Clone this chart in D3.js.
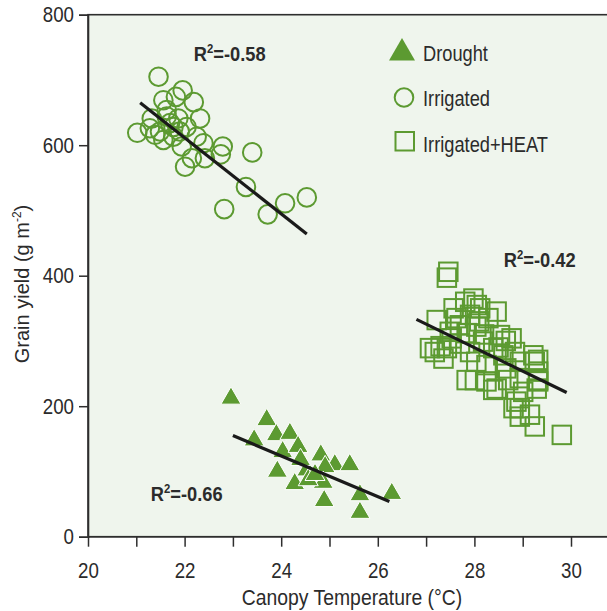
<!DOCTYPE html>
<html>
<head>
<meta charset="utf-8">
<script src="https://cdn.jsdelivr.net/npm/d3@7"></script>
<style>
  html, body { margin: 0; padding: 0; background: #ffffff; }
  svg { display: block; }
  text { font-family: "Liberation Sans", Arial, sans-serif; fill: #2b2b2b; }
</style>
</head>
<body>
<svg id="chart" width="607" height="611"></svg>
<script>
// ---------------- data ----------------
const xTicks = [20, 21, 22, 23, 24, 25, 26, 27, 28, 29, 30];
const xTickLabels = [20, 22, 24, 26, 28, 30];
const yTicks = [0, 200, 400, 600, 800];

const seriesNames = ["Drought", "Irrigated", "Irrigated+HEAT"];

const drought = [
  [22.96, 212], [23.70, 179], [23.44, 148], [23.90, 156], [24.18, 158],
  [24.03, 130], [24.35, 138], [23.92, 100], [24.28, 81], [24.53, 102],
  [24.82, 125], [25.11, 110], [25.42, 110], [24.91, 107], [24.89, 55],
  [24.87, 83], [25.63, 64], [25.63, 37], [26.29, 66], [24.56, 87],
  [24.40, 118], [24.70, 95]
];

const irrigated = [
  [21.46, 705], [21.96, 684], [21.56, 669], [22.19, 666], [21.82, 674],
  [22.32, 641], [21.02, 619], [21.32, 641], [21.39, 616], [21.63, 654],
  [21.87, 641], [21.49, 621], [21.77, 613], [21.94, 598], [22.25, 613],
  [22.39, 603], [22.01, 567], [22.15, 580], [22.42, 580], [22.79, 598],
  [22.75, 586], [23.40, 589], [23.27, 536], [22.82, 502], [23.72, 494],
  [24.08, 511], [24.53, 520], [21.70, 634], [21.90, 621], [21.56, 608],
  [21.77, 628], [22.04, 628], [21.28, 626], [21.63, 644]
];

const heat = [
  [27.46, 406], [27.43, 397], [27.98, 365], [27.81, 360], [27.57, 350],
  [28.46, 345], [28.29, 335], [27.22, 332], [27.70, 324], [28.04, 322],
  [28.53, 309], [28.77, 304], [28.84, 283], [29.25, 268], [29.32, 253],
  [29.29, 227], [29.15, 187], [29.25, 169], [29.81, 156], [28.94, 197],
  [28.87, 207], [28.46, 227], [28.25, 238], [28.01, 240], [27.18, 283],
  [27.36, 273], [27.43, 289], [27.53, 304], [27.70, 296], [27.91, 283],
  [28.04, 268], [28.25, 263], [28.66, 258], [28.94, 243], [28.94, 268],
  [28.60, 278], [28.39, 289], [28.18, 299], [27.84, 312], [27.63, 335],
  [28.12, 350], [27.91, 340], [27.49, 314], [27.08, 289], [29.22, 278],
  [29.01, 222], [28.81, 197], [29.32, 238], [27.84, 240], [28.39, 225],
  [28.94, 184], [29.32, 271], [29.32, 240], [28.10, 330], [28.50, 290],
  [28.20, 310], [28.65, 300], [27.30, 292], [28.05, 355], [28.70, 240]
];

const droughtFit = [[23.0, 155], [26.24, 54]];
const irrigatedFit = [[21.08, 665], [24.53, 464]];
const heatFit = [[26.80, 333], [29.91, 221]];

const r2Labels = [
  { text: "-0.58", x: 22.19, y: 729 },
  { text: "-0.42", x: 28.61, y: 413 },
  { text: "-0.66", x: 21.30, y: 55 }
];

// ---------------- chart ----------------
const W = 607, H = 611;
const svg = d3.select("#chart");
const green = "#5c9a31";
const SX = 0.85; // horizontal condensing of the condensed-looking labels

const x = d3.scaleLinear().domain([20, 30]).range([88, 571]);
const y = d3.scaleLinear().domain([0, 800]).range([536.7, 14.7]);

// condensed text helper: place at (px,py) and squeeze horizontally
function ctext(parent, px, py, sx) {
  return parent.append("text")
    .attr("transform", `translate(${px},${py}) scale(${sx},1)`);
}

// plot background + frame
svg.append("rect")
  .attr("x", x(20)).attr("y", y(800))
  .attr("width", W + 10 - x(20)).attr("height", y(0) - y(800))
  .attr("fill", "#eff5ed")
  .attr("stroke", "#2e2e2e").attr("stroke-width", 1.6);

// y axis
const yAxis = svg.append("g")
  .attr("transform", `translate(${x(20)},0)`)
  .call(d3.axisLeft(y).tickValues(yTicks).tickSize(9).tickFormat(d3.format("d")));
yAxis.select(".domain").attr("stroke", "#2e2e2e").attr("stroke-width", 1.6);
yAxis.selectAll(".tick line").attr("stroke", "#2e2e2e").attr("stroke-width", 1.5);
yAxis.selectAll(".tick text")
  .attr("x", -14 / SX)
  .attr("transform", `scale(${SX},1)`)
  .style("font-size", "22px").attr("fill", "#2b2b2b");

// x axis
const xAxis = svg.append("g")
  .attr("transform", `translate(0,${y(0)})`)
  .call(d3.axisBottom(x).tickValues(xTicks).tickSize(10).tickPadding(16)
    .tickFormat(d => xTickLabels.includes(d) ? d : ""));
xAxis.select(".domain").remove();
xAxis.append("line").attr("x1", x(20)).attr("x2", W + 10)
  .attr("stroke", "#2e2e2e").attr("stroke-width", 1.6);
xAxis.selectAll(".tick line").attr("stroke", "#2e2e2e").attr("stroke-width", 1.5);
xAxis.selectAll(".tick text")
  .attr("transform", `scale(${SX},1)`)
  .style("font-size", "22px").attr("fill", "#2b2b2b");

// axis titles
ctext(svg, 352, 605, 0.88)
  .attr("text-anchor", "middle")
  .style("font-size", "22px")
  .text("Canopy Temperature (°C)");

const yt = svg.append("text")
  .attr("transform", "translate(29,284) rotate(-90)")
  .attr("text-anchor", "middle")
  .style("font-size", "20px");
yt.append("tspan").text("Grain yield (g m");
yt.append("tspan").attr("dy", -8).style("font-size", "12px").text("-2");
yt.append("tspan").attr("dy", 8).text(")");

// symbols
const triPath = (cx, cy, s) => {
  const h = s * Math.sqrt(3) / 2;
  return `M${cx},${cy - 2 * h / 3}L${cx + s / 2},${cy + h / 3}L${cx - s / 2},${cy + h / 3}Z`;
};

// irrigated circles
svg.append("g").selectAll("circle").data(irrigated).join("circle")
  .attr("cx", d => x(d[0])).attr("cy", d => y(d[1])).attr("r", 9.3)
  .attr("fill", "none").attr("stroke", green).attr("stroke-width", 2);

// heat squares
const sq = 18.5;
svg.append("g").selectAll("rect").data(heat).join("rect")
  .attr("x", d => x(d[0]) - sq / 2).attr("y", d => y(d[1]) - sq / 2)
  .attr("width", sq).attr("height", sq)
  .attr("fill", "none").attr("stroke", green).attr("stroke-width", 2);

// drought triangles
svg.append("g").selectAll("path").data(drought).join("path")
  .attr("d", d => triPath(x(d[0]), y(d[1]), 20))
  .attr("fill", green).attr("stroke", "#ffffff").attr("stroke-width", 1);

// fit lines
const line = d3.line().x(d => x(d[0])).y(d => y(d[1]));
[droughtFit, irrigatedFit, heatFit].forEach(f => {
  svg.append("path").attr("d", line(f))
    .attr("fill", "none").attr("stroke", "#1a1a1a").attr("stroke-width", 3.2);
});

// R² labels
r2Labels.forEach(l => {
  const t = ctext(svg, x(l.x), y(l.y), 0.87)
    .style("font-size", "21px").style("font-weight", "bold").attr("fill", "#222");
  t.append("tspan").text("R");
  t.append("tspan").attr("dy", -8).style("font-size", "13px").text("2");
  t.append("tspan").attr("dy", 8).text("=" + l.text);
});

// legend
const lg = svg.append("g");
lg.append("path").attr("d", triPath(402, 53, 26)).attr("fill", green);
lg.append("circle").attr("cx", 404).attr("cy", 97.5).attr("r", 9.3)
  .attr("fill", "none").attr("stroke", green).attr("stroke-width", 2);
lg.append("rect").attr("x", 395.5).attr("y", 132).attr("width", 18.5).attr("height", 18.5)
  .attr("fill", "none").attr("stroke", green).attr("stroke-width", 2);
seriesNames.forEach((n, i) => {
  ctext(lg, 423, [61, 106, 152][i], 0.83)
    .style("font-size", "22px").text(n);
});
</script>
</body>
</html>
